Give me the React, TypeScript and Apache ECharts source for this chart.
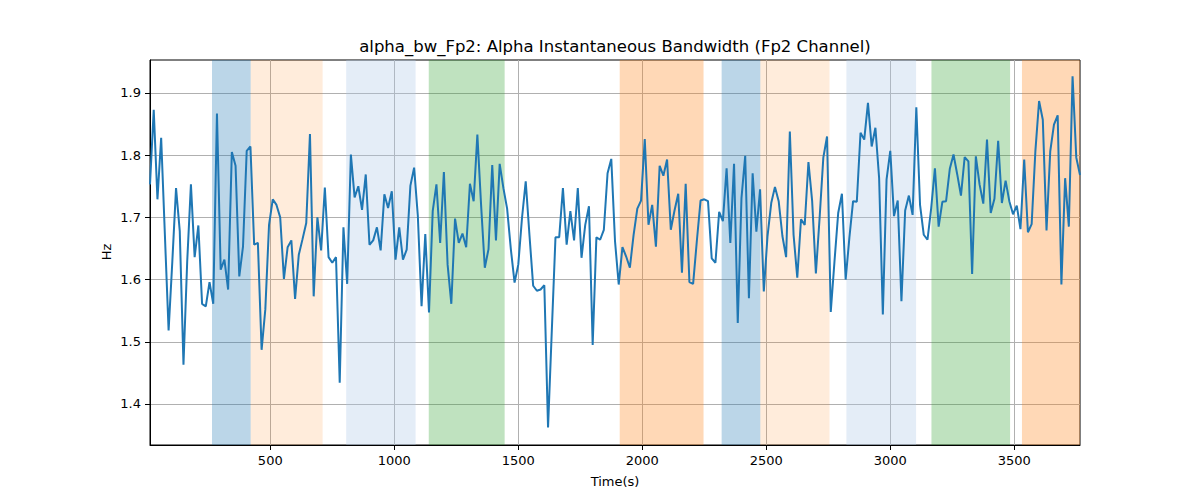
import React, { useEffect, useRef } from "react";
import * as echarts from "echarts";

// Time grid (s): first sample and sampling step
const T0 = 15;
const DT = 15;
const X_MIN = 15;
const X_MAX = 3765;
const Y_MIN = 1.334;
const Y_MAX = 1.953;

const xTicks = [500, 1000, 1500, 2000, 2500, 3000, 3500];
const yTicks = [1.4, 1.5, 1.6, 1.7, 1.8, 1.9];

// Alpha instantaneous bandwidth (Hz)
const bandwidth = [
  1.753, 1.873, 1.729, 1.828, 1.672, 1.518, 1.629, 1.747, 1.678, 1.463,
  1.629, 1.753, 1.636, 1.687, 1.561, 1.557, 1.596, 1.561, 1.867, 1.616,
  1.632, 1.584, 1.805, 1.783, 1.605, 1.653, 1.807, 1.814, 1.656, 1.659,
  1.487, 1.552, 1.688, 1.729, 1.720, 1.700, 1.601, 1.652, 1.663, 1.569,
  1.640, 1.665, 1.691, 1.834, 1.573, 1.700, 1.647, 1.748, 1.636, 1.627,
  1.636, 1.434, 1.684, 1.593, 1.801, 1.732, 1.750, 1.712, 1.769, 1.656,
  1.663, 1.684, 1.647, 1.737, 1.715, 1.742, 1.632, 1.684, 1.632, 1.648,
  1.751, 1.780, 1.702, 1.557, 1.673, 1.547, 1.710, 1.753, 1.659, 1.773,
  1.624, 1.561, 1.698, 1.659, 1.674, 1.652, 1.754, 1.726, 1.833, 1.720,
  1.619, 1.649, 1.784, 1.663, 1.786, 1.747, 1.714, 1.649, 1.595, 1.624,
  1.699, 1.758, 1.672, 1.590, 1.582, 1.584, 1.591, 1.362, 1.516, 1.668,
  1.668, 1.747, 1.656, 1.710, 1.663, 1.747, 1.635, 1.688, 1.718, 1.495,
  1.668, 1.664, 1.680, 1.771, 1.794, 1.662, 1.592, 1.652, 1.637, 1.619,
  1.672, 1.714, 1.727, 1.826, 1.688, 1.720, 1.653, 1.783, 1.767, 1.793,
  1.680, 1.711, 1.738, 1.611, 1.754, 1.596, 1.593, 1.662, 1.727, 1.729,
  1.726, 1.634, 1.627, 1.709, 1.694, 1.779, 1.659, 1.786, 1.530, 1.731,
  1.799, 1.570, 1.771, 1.677, 1.745, 1.581, 1.670, 1.723, 1.749, 1.726,
  1.670, 1.636, 1.838, 1.672, 1.603, 1.697, 1.688, 1.789, 1.726, 1.610,
  1.699, 1.796, 1.830, 1.548, 1.629, 1.707, 1.738, 1.600, 1.667, 1.726,
  1.725, 1.836, 1.825, 1.884, 1.814, 1.844, 1.763, 1.544, 1.761, 1.807,
  1.702, 1.727, 1.565, 1.711, 1.735, 1.704, 1.877, 1.720, 1.672, 1.664,
  1.715, 1.779, 1.685, 1.725, 1.726, 1.778, 1.801, 1.769, 1.735, 1.797,
  1.790, 1.609, 1.798, 1.753, 1.722, 1.825, 1.707, 1.730, 1.823, 1.723,
  1.759, 1.726, 1.705, 1.719, 1.681, 1.793, 1.676, 1.689, 1.806, 1.887,
  1.857, 1.679, 1.806, 1.849, 1.864, 1.592, 1.763, 1.685, 1.927, 1.796,
  1.768,
];

// Shaded intervals: [start, end, colour]
const spanStarts = [265, 421, 806, 1139, 1909, 2320, 2476, 2823, 3166, 3531];
const spanEnds = [421, 711, 1086, 1445, 2247, 2476, 2755, 3104, 3483, 3765];
const spanColors = [
  "rgba(31,119,180,0.3)",
  "rgba(255,127,14,0.15)",
  "rgba(174,199,232,0.33)",
  "rgba(44,160,44,0.3)",
  "rgba(255,127,14,0.3)",
  "rgba(31,119,180,0.3)",
  "rgba(255,127,14,0.15)",
  "rgba(174,199,232,0.33)",
  "rgba(44,160,44,0.3)",
  "rgba(255,127,14,0.3)",
];

const TITLE = "alpha_bw_Fp2: Alpha Instantaneous Bandwidth (Fp2 Channel)";
const X_NAME = "Time(s)";
const Y_NAME = "Hz";

const FONT = "DejaVu Sans";

export default function App() {
  const ref = useRef<HTMLDivElement>(null);

  useEffect(() => {
    if (!ref.current) return;
    const chart = echarts.init(ref.current, undefined, { renderer: "svg" });
    const data = bandwidth.map((v, i) => [T0 + i * DT, v]);
    const gridColor = "#b0b0b0";

    const option: any = {
      animation: false,
      backgroundColor: "#ffffff",
      grid: {
        left: 150,
        right: 120,
        top: 60,
        bottom: 55,
        show: true,
        borderColor: "#000000",
        borderWidth: 1,
        backgroundColor: "transparent",
      },
      xAxis: {
        type: "value",
        min: X_MIN,
        max: X_MAX,
        axisLine: { show: true, onZero: false, lineStyle: { color: "#000", width: 1 } },
        axisTick: {
          show: true,
          customValues: xTicks,
          length: 5,
          lineStyle: { color: "#000", width: 1 },
        },
        axisLabel: {
          customValues: xTicks,
          color: "#000",
          fontFamily: FONT,
          fontSize: 13,
          margin: 9,
          formatter: (v: number) => String(Math.round(v)),
        },
        splitLine: { show: true, lineStyle: { color: gridColor, width: 1 } },
      },
      yAxis: {
        type: "value",
        min: Y_MIN,
        max: Y_MAX,
        axisLine: { show: true, lineStyle: { color: "#000", width: 1 } },
        axisTick: {
          show: true,
          customValues: yTicks,
          length: 5,
          lineStyle: { color: "#000", width: 1 },
        },
        axisLabel: {
          customValues: yTicks,
          color: "#000",
          fontFamily: FONT,
          fontSize: 13,
          margin: 9,
          formatter: (v: number) => v.toFixed(1),
        },
        splitLine: { show: true, lineStyle: { color: gridColor, width: 1 } },
      },
      series: [
        {
          type: "line",
          data: [],
          z: 1,
          silent: true,
          markArea: {
            silent: true,
            label: { show: false },
            data: spanStarts.map((s, i) => [
              { xAxis: s, itemStyle: { color: spanColors[i] } },
              { xAxis: spanEnds[i] },
            ]),
          },
        },
        {
          type: "line",
          data,
          z: 3,
          showSymbol: false,
          symbol: "none",
          lineStyle: { color: "#1f77b4", width: 2 },
          silent: true,
        },
      ],
      graphic: [
        {
          type: "text",
          x: 615,
          y: 46,
          style: {
            text: TITLE,
            fontFamily: FONT,
            fontSize: 16.5,
            fill: "#000",
            align: "center",
            verticalAlign: "middle",
          },
        },
        {
          type: "text",
          x: 615,
          y: 481,
          style: {
            text: X_NAME,
            fontFamily: FONT,
            fontSize: 13,
            fill: "#000",
            align: "center",
            verticalAlign: "middle",
          },
        },
        {
          type: "text",
          x: 106,
          y: 252,
          rotation: Math.PI / 2,
          style: {
            text: Y_NAME,
            fontFamily: FONT,
            fontSize: 13,
            fill: "#000",
            align: "center",
            verticalAlign: "middle",
          },
        },
      ],
    };

    chart.setOption(option);
    return () => chart.dispose();
  }, []);

  return (
    <div
      ref={ref}
      style={{ position: "fixed", left: 0, top: 0, width: 1200, height: 500 }}
    />
  );
}
